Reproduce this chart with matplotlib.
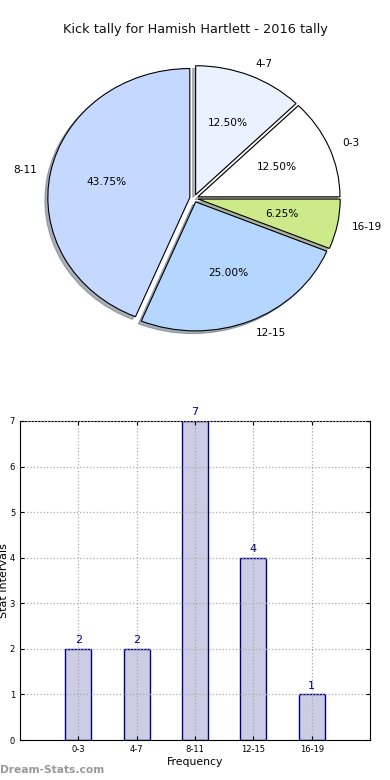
import matplotlib
matplotlib.use("Agg")
import matplotlib.pyplot as plt

categories = ["0-3", "4-7", "8-11", "12-15", "16-19"]
counts = [2, 2, 7, 4, 1]
pie_colors = ["#ffffff", "#eaf1ff", "#c5d8ff", "#b4d6ff", "#cdea8a"]
title = "Kick tally for Hamish Hartlett - 2016 tally"

W, H = 390, 780
fig = plt.figure(figsize=(W / 100, H / 100), dpi=100)
fig.patch.set_facecolor("white")

fig.text(0.5, 1 - 30 / H, title, ha="center", va="center", fontsize=9.3, color="#111111")

# Pie (elliptical, as in the reference)
Rx, Ry = 142.0, 129.0
cx, cy = 194.0, 198.3
span = 2.6
pax = fig.add_axes([(cx - span * Rx / 2) / W, 1 - (cy + span * Ry / 2) / H,
                    span * Rx / W, span * Ry / H])
wedges, texts, autotexts = pax.pie(
    counts, labels=categories, colors=pie_colors, startangle=0, counterclock=True,
    explode=[0.03] * 5, shadow={"ox": -0.015, "oy": -0.015, "shade": 0.55},
    autopct="%.2f%%",
    wedgeprops=dict(edgecolor="black", linewidth=0.8), labeldistance=1.1, pctdistance=0.6,
    textprops=dict(fontsize=7.6, color="black"))
pax.set_xlim(-span / 2, span / 2)
pax.set_ylim(-span / 2, span / 2)
pax.set_aspect("auto")
pax.axis("off")

# Bars
bax = fig.add_axes([20 / W, 1 - 740 / H, 350 / W, 319 / H])
x = list(range(len(categories)))
bars = bax.bar(x, counts, width=0.45, color="#ccccE4", edgecolor="#000080", linewidth=1.0, zorder=1)
bax.set_xlim(-1, 5)
bax.set_ylim(0, 7)
bax.set_xticks(x)
bax.set_xticklabels(categories)
bax.set_yticks(range(0, 8))
bax.tick_params(axis="both", labelsize=6, direction="in", length=3)
bax.tick_params(top=True, right=True)
bax.grid(True, linestyle=":", color="#aaaaaa", linewidth=0.9, zorder=3)
bax.set_axisbelow(False)
for b, v in zip(bars, counts):
    bax.text(b.get_x() + b.get_width() / 2, v + 0.08, str(v), ha="center", va="bottom",
             fontsize=8, color="#000080", clip_on=False)
bax.set_xlabel("Frequency", fontsize=7.8, labelpad=2)
fig.text(4 / W, 1 - 581 / H, "Stat Intervals", rotation=90, ha="center", va="center", fontsize=8)
fig.text(0, 1 - 770 / H, "Dream-Stats.com", ha="left", va="center", fontsize=7.7,
         color="#999999", fontweight="bold")

fig.savefig("out.png", dpi=100, facecolor="white")
